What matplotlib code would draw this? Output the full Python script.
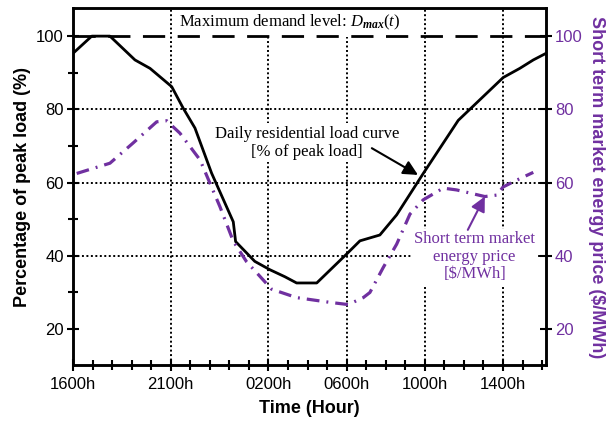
import matplotlib
matplotlib.use("Agg")
import matplotlib.pyplot as plt
from matplotlib.ticker import FixedLocator, MultipleLocator

plt.rcParams['font.family'] = ['Liberation Sans', 'DejaVu Sans']
plt.rcParams['mathtext.fontset'] = 'custom'
plt.rcParams['mathtext.rm'] = 'Liberation Serif'
plt.rcParams['mathtext.it'] = 'Liberation Serif:italic'
plt.rcParams['mathtext.bf'] = 'Liberation Serif:italic:bold'

PURPLE = '#7030A0'

# hours after 1600h
load_hours = [0, 0.96, 1.89, 3.17, 3.94, 5.05, 5.63, 6.24, 7.09, 8.2, 8.32, 9.3,
              10.08, 10.84, 11.44, 12.47, 14.0, 14.68, 15.7, 16.56, 17.92, 19.71,
              22.01, 22.86, 23.55, 24.2]
load_values = [95.3, 100, 100, 93.5, 91.2, 86.2, 80.4, 74.9, 62.6, 49.3, 43.9, 38.5,
               36.2, 34.3, 32.6, 32.6, 40.5, 44.1, 45.7, 51.2, 62.5, 77,
               88.7, 91.2, 93.5, 95.3]

price_hours = [0.19, 1.89, 3.07, 4.28, 4.79, 5.47, 6.5, 7.52, 8.2, 8.88, 9.31, 10.16,
               11.44, 13.15, 14.08, 14.85, 15.19, 15.87, 16.56, 17.24, 17.92, 18.94,
               19.63, 21.07, 21.69, 22.0, 22.71, 23.55]
price_values = [62.5, 65.3, 70.8, 76.6, 76.9, 73.5, 66.2, 53.4, 44.0, 38.4, 35.9, 30.9,
                28.6, 27.3, 26.7, 28.6, 30.0, 36.8, 43.2, 51.4, 55.3, 58.5,
                58.0, 56.2, 56.6, 58.8, 60.7, 62.8]

max_demand = 100
x_tick_pos = [0, 5, 10, 14, 18, 22]
x_tick_labels = ['1600h', '2100h', '0200h', '0600h', '1000h', '1400h']
y_ticks = [20, 40, 60, 80, 100]

fig = plt.figure(figsize=(6.07, 4.30), dpi=100)
ax = fig.add_axes([73/607, 1-365/430, (546-73)/607, (365-8.3)/430])
ax.set_xlim(0, 24.2)
ax.set_ylim(10.2, 107.6)

# grid
for xv in x_tick_pos[1:]:
    ax.axvline(xv, color='black', lw=1.4, ls=(0, (1, 1.3)), zorder=1)
for yv in [40, 60, 80]:
    ax.axhline(yv, color='black', lw=1.4, ls=(0, (1, 1.3)), zorder=1)

ax.axhline(max_demand, color='black', lw=2.0, ls=(0, (8, 4.5)), zorder=4)
ax.plot(load_hours, load_values, color='black', lw=2.0, zorder=5)
ax.plot(price_hours, price_values, color=PURPLE, lw=2.3,
        ls=(0, (4, 2.2, 0.6, 2.2)), zorder=5)

ax.xaxis.set_major_locator(FixedLocator(x_tick_pos))
ax.set_xticklabels(x_tick_labels)
ax.xaxis.set_minor_locator(MultipleLocator(1))
ax.yaxis.set_major_locator(FixedLocator(y_ticks))
ax.yaxis.set_minor_locator(FixedLocator([30, 50, 70, 90]))
ax.tick_params(axis='both', which='major', direction='inout', length=9, width=1.5,
               labelsize=12, pad=2)
ax.tick_params(axis='both', which='minor', direction='inout', length=7, width=1.5)
ax.tick_params(axis='x', which='major', pad=4)
for s in ax.spines.values():
    s.set_linewidth(1.8)

ax2 = ax.twinx()
ax2.set_ylim(ax.get_ylim())
ax2.yaxis.set_major_locator(FixedLocator(y_ticks))
ax2.tick_params(axis='y', direction='inout', length=9, width=1.5, labelsize=12,
                labelcolor=PURPLE, pad=2)
for s in ax2.spines.values():
    s.set_linewidth(1.8)

ax.set_xlabel('Time (Hour)', fontsize=13, fontweight='bold', labelpad=6)
ax.set_ylabel('Percentage of peak load (%)', fontsize=13, fontweight='bold', labelpad=4)
ax2.set_ylabel('Short term market energy price (\\$/MWh)', fontsize=13,
               fontweight='bold', color=PURPLE, rotation=270, labelpad=16)

ax.text(11.1, 103.8, r'Maximum demand level: $D_{\mathbf{max}}(t)$',
        family='Liberation Serif', fontsize=12, ha='center', va='center',
        bbox=dict(facecolor='white', edgecolor='none', pad=4), zorder=2)

ax.text(11.97, 70.9, 'Daily residential load curve\n[% of peak load]',
        family='Liberation Serif', fontsize=12, ha='center', va='center',
        linespacing=1.15,
        bbox=dict(facecolor='white', edgecolor='none', pad=2), zorder=2)
ax.annotate('', xy=(17.65, 62.1), xytext=(15.29, 69.4),
            arrowprops=dict(arrowstyle='-|>', color='black', lw=1.5,
                            mutation_scale=22, shrinkA=0, shrinkB=0), zorder=6)

ax.text(20.55, 39.8, 'Short term market\nenergy price\n[\\$/MWh]',
        family='Liberation Serif', fontsize=12, ha='center', va='center',
        color=PURPLE, linespacing=1.1,
        bbox=dict(facecolor='white', edgecolor='none', pad=2), zorder=2)
ax.annotate('', xy=(21.07, 56.2), xytext=(20.2, 47.1),
            arrowprops=dict(arrowstyle='-|>', color=PURPLE, lw=1.5,
                            mutation_scale=22, shrinkA=0, shrinkB=0), zorder=6)

fig.savefig('out.png', dpi=100)
